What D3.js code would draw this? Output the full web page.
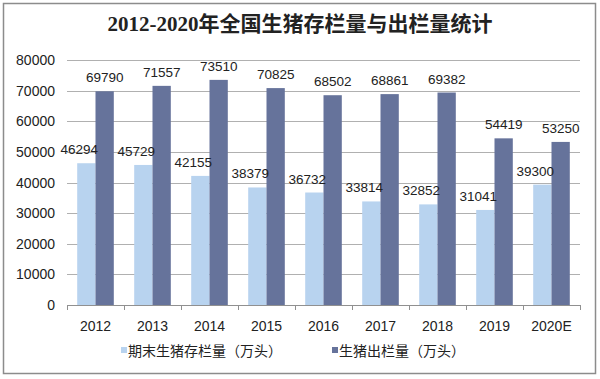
<!DOCTYPE html>
<html><head><meta charset="utf-8">
<script src="https://cdn.jsdelivr.net/npm/d3@7"></script>
<style>body{margin:0;background:#fff;}svg{display:block;}</style>
</head><body>
<svg id="c" width="600" height="379"></svg>
<script>
const categories = ["2012","2013","2014","2015","2016","2017","2018","2019","2020E"];
const stock = [46294,45729,42155,38379,36732,33814,32852,31041,39300];
const slaughter = [69790,71557,73510,70825,68502,68861,69382,54419,53250];
const seriesNames = ["期末生猪存栏量（万头）","生猪出栏量（万头）"];
const yTicks = [0,10000,20000,30000,40000,50000,60000,70000,80000];
const title = "2012-2020年全国生猪存栏量与出栏量统计";

const colors = ["#b8d3ef","#66739b"];
const svg = d3.select("#c");
svg.append("rect").attr("x",3.5).attr("y",3.5).attr("width",592).attr("height",370)
  .attr("fill","#fff").attr("stroke","#8c8c8c").attr("stroke-width",1.5);

svg.append("text").attr("x",300).attr("y",31).attr("text-anchor","middle")
  .attr("font-family","'Liberation Serif','Noto Sans CJK SC',serif").attr("font-weight","bold")
  .attr("font-size",21).attr("fill","#222").text(title);

const x = d3.scaleBand().domain(categories).range([67,580]).paddingInner(0).paddingOuter(0);
const y = d3.scaleLinear().domain([0,80000]).range([305,60]);

// gridlines
svg.append("g").selectAll("line").data(yTicks.filter(d=>d>0)).join("line")
  .attr("x1",67).attr("x2",580).attr("y1",d=>Math.round(y(d))+0.5).attr("y2",d=>Math.round(y(d))+0.5)
  .attr("stroke","#b0b0b0").attr("stroke-width",1);

const lf = "'Liberation Sans',Arial,sans-serif";
// y labels
svg.append("g").selectAll("text").data(yTicks).join("text")
  .attr("x",55).attr("y",d=>y(d)+5).attr("text-anchor","end")
  .attr("font-family",lf).attr("font-size",14).attr("fill","#222")
  .text(d=>d);

const bw = 18.3;
const off = (x.bandwidth()-2*bw)/2;
// bars
const g = svg.append("g");
g.selectAll(".s").data(stock).join("rect")
  .attr("x",(d,i)=>x(categories[i])+off).attr("width",bw)
  .attr("y",d=>y(d)).attr("height",d=>y(0)-y(d)).attr("fill",colors[0]);
g.selectAll(".t").data(slaughter).join("rect")
  .attr("x",(d,i)=>x(categories[i])+off+bw).attr("width",bw)
  .attr("y",d=>y(d)).attr("height",d=>y(0)-y(d)).attr("fill",colors[1]);

// labels
g.selectAll(".ls").data(stock).join("text")
  .attr("x",(d,i)=>x(categories[i])+off+bw/2-7).attr("y",d=>y(d)-9)
  .attr("text-anchor","middle").attr("font-family",lf).attr("font-size",13.5).attr("fill","#222")
  .text(d=>d);
g.selectAll(".lt").data(slaughter).join("text")
  .attr("x",(d,i)=>x(categories[i])+off+bw*1.5).attr("y",d=>y(d)-9)
  .attr("text-anchor","middle").attr("font-family",lf).attr("font-size",13.5).attr("fill","#222")
  .text(d=>d);

// x axis
const ax = svg.append("g").attr("transform","translate(0,305)");
ax.append("line").attr("x1",67).attr("x2",580).attr("y1",0.5).attr("y2",0.5).attr("stroke","#909090");
const bounds = categories.map(c=>x(c)).concat([580]);
ax.selectAll(".tk").data(bounds).join("line")
  .attr("x1",d=>Math.round(d)+0.5).attr("x2",d=>Math.round(d)+0.5).attr("y1",0).attr("y2",5)
  .attr("stroke","#909090");
ax.selectAll("text").data(categories).join("text")
  .attr("x",d=>x(d)+x.bandwidth()/2).attr("y",26).attr("text-anchor","middle")
  .attr("font-family",lf).attr("font-size",14).attr("fill","#222").text(d=>d);

// legend
const lg = svg.append("g");
const lx = [121,332];
seriesNames.forEach((n,i)=>{
  lg.append("rect").attr("x",lx[i]).attr("y",347).attr("width",6).attr("height",6).attr("fill",colors[i]);
  lg.append("text").attr("x",lx[i]+7).attr("y",356).attr("font-family","'Noto Sans CJK SC',sans-serif")
    .attr("font-size",14).attr("fill","#222").text(n);
});
</script>
</body></html>
